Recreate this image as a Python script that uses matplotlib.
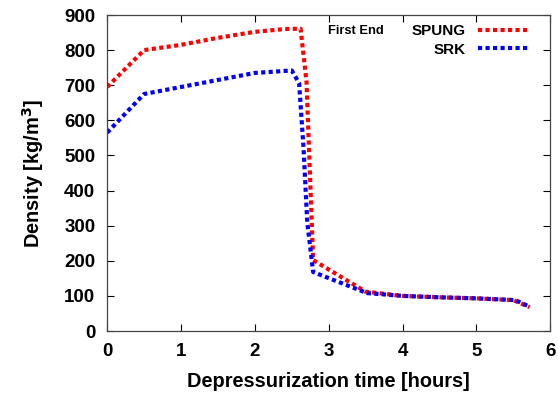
import matplotlib
matplotlib.use("Agg")
import matplotlib.pyplot as plt

plt.rcParams['font.family'] = ['Liberation Sans', 'DejaVu Sans']
plt.rcParams['font.weight'] = 'bold'

spung_t = [0.0, 0.5, 1.0, 1.5, 2.0, 2.4, 2.62, 2.70, 2.79, 3.5, 4.0, 4.5, 5.0, 5.5, 5.72]
spung_d = [695, 800, 815, 835, 852, 860, 861, 710, 202, 112, 100, 96, 93, 88, 68]

srk_t = [0.0, 0.5, 1.0, 1.5, 2.0, 2.5, 2.6, 2.66, 2.71, 2.79, 3.52, 4.0, 4.5, 5.0, 5.53, 5.73]
srk_d = [565, 675, 695, 715, 735, 742, 706, 520, 310, 168, 108, 100, 96, 93, 88, 68]

xticks = [0, 1, 2, 3, 4, 5, 6]
yticks = [0, 100, 200, 300, 400, 500, 600, 700, 800, 900]

fig = plt.figure(figsize=(5.58, 3.95), dpi=100)
ax = fig.add_axes([0.192, 0.162, 0.794, 0.800])

ls = (0, (1, 0.8))
ax.plot(spung_t, spung_d, color='#ff0000', lw=3, linestyle=ls, label='SPUNG')
ax.plot(srk_t, srk_d, color='#0000ff', lw=3, linestyle=ls, label='SRK')

ax.set_xlim(0, 6)
ax.set_ylim(0, 900)
ax.set_xticks(xticks)
ax.set_yticks(yticks)
ax.tick_params(direction='in', top=True, right=True, length=5, width=0.8,
               labelsize=13.5, pad=8.5)
for lab in ax.get_xticklabels() + ax.get_yticklabels():
    lab.set_fontweight('bold')
for s in ax.spines.values():
    s.set_color('#444444')
    s.set_linewidth(0.9)

ax.set_xlabel('Depressurization time [hours]', fontsize=14.4, fontweight='bold', labelpad=9)
ax.set_ylabel('Density [kg/m$^\\mathbf{3}$]', fontsize=14.4, fontweight='bold', labelpad=13)

leg = ax.legend(loc='upper right', bbox_to_anchor=(0.976, 1.0), frameon=False,
                markerfirst=False, handlelength=3.4,
                prop={'weight': 'bold', 'size': 11}, labelspacing=0.3,
                borderaxespad=0.2, handletextpad=0.8)
ax.text(0.499, 0.948, 'First End', transform=ax.transAxes, fontsize=9.3,
        fontweight='bold', ha='left', va='center')

fig.savefig('out.png', dpi=100)
